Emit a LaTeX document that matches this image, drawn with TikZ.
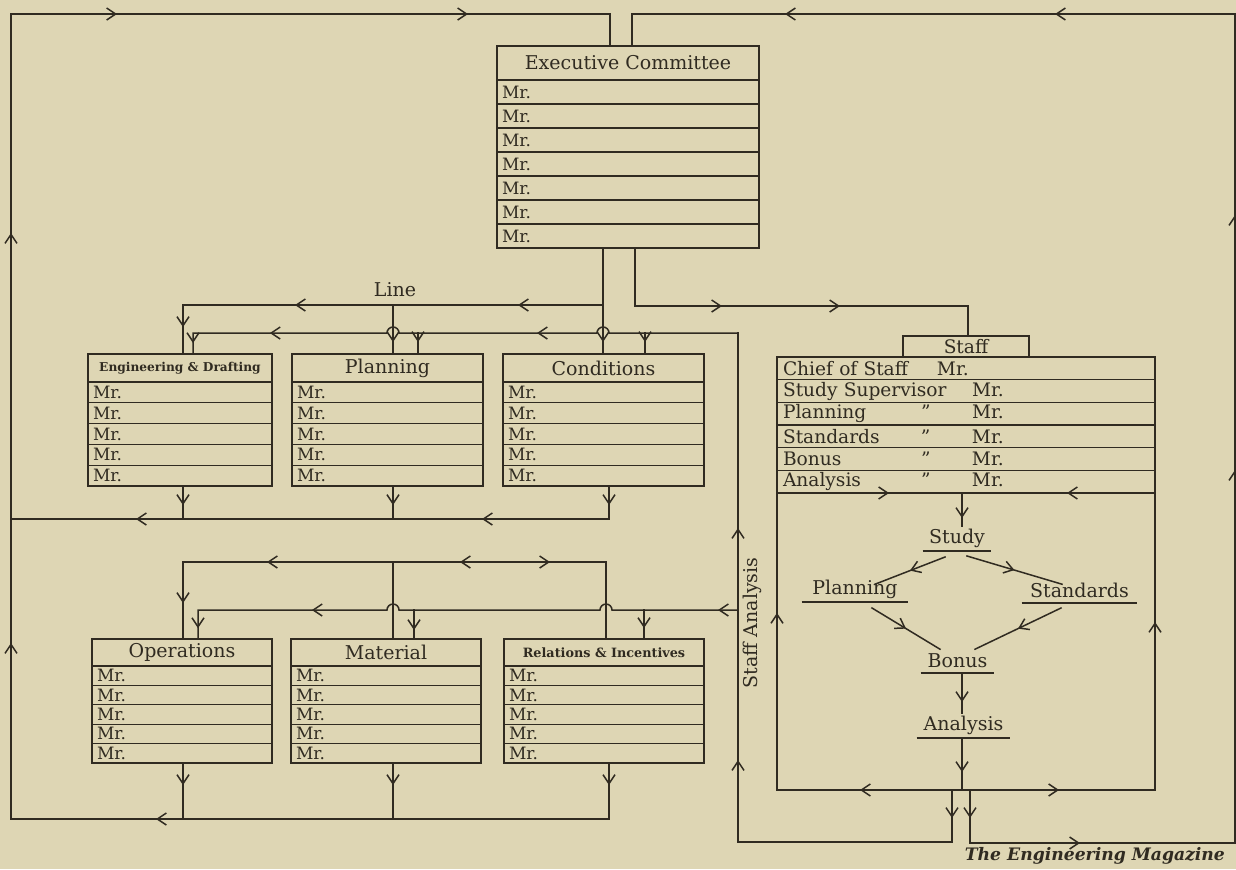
\documentclass[tikz,border=0pt]{standalone}
\usepackage{fontspec}
\setmainfont{DejaVu Serif}
\usetikzlibrary{arrows.meta, decorations.markings, positioning}

\definecolor{paper}{RGB}{222,214,180}
\definecolor{ink}{RGB}{48,43,33}

\newcommand{\titlefont}{\fontsize{9.5}{11}\selectfont}
\newcommand{\smallbold}{\fontsize{6.1}{7}\selectfont\bfseries}
\newcommand{\rowfont}{\fontsize{8.5}{10}\selectfont}
\newcommand{\staffont}{\fontsize{9.3}{11}\selectfont}

% box with a title row and rows of "Mr."
% #1 name, #2 top left, #3 width, #4 title height, #5 row height, #6 rows, #7 title font, #8 title
\newcommand{\orgbox}[8]{%
  \pgfmathsetlengthmacro{\rowtext}{#3-5pt}%
  \node[head, minimum width=#3, minimum height=#4, font=#7] (#1) at #2 {#8};
  \foreach \rw in {1,...,#6}
    \node[row, minimum width=#3, text width=\rowtext, minimum height=#5, yshift=-(\rw-1)*#5] (#1-\rw) at (#1.south west) {Mr.};
  \draw[frame] (#1.north west) rectangle (#1-#6.south east);
}

\begin{document}
\begin{tikzpicture}[
    x=0.5pt, y=-0.5pt,
    font=\titlefont,
    barb/.tip={Straight Barb[length=4.5pt, width=6pt]},
    head/.style={draw=ink, line width=0.6pt, anchor=north west, inner sep=0pt, outer sep=0pt, align=center, text=ink},
    row/.style={draw=ink, line width=0.6pt, anchor=north west, inner xsep=2.5pt, inner ysep=0pt, outer sep=0pt, align=left, font=\rowfont, text=ink},
    srow/.style={draw=ink, line width=0.6pt, minimum width=189pt, text width=183pt, minimum height=11.33pt, inner xsep=3pt, inner ysep=0pt, outer sep=0pt, align=left, font=\staffont, text=ink},
    stage/.style={anchor=south, inner sep=0pt, minimum height=12pt, font=\titlefont, text=ink},
    frame/.style={draw=ink, line width=1pt},
    rule/.style={draw=ink, line width=0.8pt},
    wire/.style={ink, draw, line width=0.75pt, line cap=rect},
    arr/.style={postaction={decorate, decoration={markings, mark=at position #1 with {\arrow{barb}}}}}
]
\fill[paper] (0,0) rectangle (1236,869);
\useasboundingbox (0,0) rectangle (1236,869);

% Executive committee and line departments
\orgbox{ec}{(497,46)}{131pt}{17pt}{12pt}{7}{\titlefont}{Executive Committee}
\orgbox{eng}{(88,354)}{92pt}{14pt}{10.4pt}{5}{\smallbold}{Engineering \& Drafting}
\orgbox{plan}{(292,354)}{95.5pt}{14pt}{10.4pt}{5}{\titlefont}{Planning}
\orgbox{cond}{(503,354)}{100.5pt}{14pt}{10.4pt}{5}{\titlefont}{Conditions}
\orgbox{oper}{(92,639)}{90pt}{13.5pt}{9.7pt}{5}{\titlefont}{Operations}
\orgbox{matl}{(291,639)}{95pt}{13.5pt}{9.7pt}{5}{\titlefont}{Material}
\orgbox{rel}{(504,639)}{100pt}{13.5pt}{9.7pt}{5}{\fontsize{6.4}{7}\selectfont\bfseries}{Relations \& Incentives}

% Staff
\node[head, line width=1pt, minimum width=63pt, minimum height=10.5pt, font=\staffont] (tab) at (903,336) {Staff};
\node[srow, anchor=north west] (s1) at (777,357) {\makebox[77pt][l]{Chief of Staff}Mr.};
\node[srow, below=0pt of s1] (s2) {\makebox[94.5pt][l]{Study Supervisor}Mr.};
\node[srow, below=0pt of s2] (s3) {\makebox[69pt][l]{Planning}\makebox[25.5pt][l]{''}Mr.};
\node[srow, below=0pt of s3] (s4) {\makebox[69pt][l]{Standards}\makebox[25.5pt][l]{''}Mr.};
\node[srow, below=0pt of s4] (s5) {\makebox[69pt][l]{Bonus}\makebox[25.5pt][l]{''}Mr.};
\node[srow, below=0pt of s5] (s6) {\makebox[69pt][l]{Analysis}\makebox[25.5pt][l]{''}Mr.};
\node[srow, below=0pt of s6, minimum height=148.5pt] (sarea) {};
\draw[frame] (s1.north west) rectangle (sarea.south east);

% Staff stages
\node[stage, minimum width=34pt] (sstudy) at (957,551) {Study};
\node[stage, minimum width=53pt] (splan) at (855,602) {Planning};
\node[stage, minimum width=57.5pt] (sstand) at (1079.5,603) {Standards};
\node[stage, minimum width=36.5pt] (sbonus) at (957.5,673) {Bonus};
\node[stage, minimum width=46.5pt] (sanal) at (963.5,738) {Analysis};
\foreach \n in {sstudy,splan,sstand,sbonus,sanal}
  \draw[rule] (\n.south west) -- (\n.south east);

% Labels
\node[text=ink] (line) at (395,290) {Line};
\node[text=ink, rotate=90] (salabel) at (752,623) {Staff Analysis};
\node[text=ink, anchor=base east, font=\fontsize{8.6}{10}\selectfont\bfseries\itshape] (mag) at (1232,860) {The Engineering Magazine};

% Junctions
\coordinate (tl) at (11,14);
\coordinate (lt) at (610,14);
\coordinate (rt) at (632,14);
\coordinate (tr) at (1235,14);
\coordinate (br) at (1235,843);
\coordinate (ln) at (603,305);
\coordinate (l1) at (183,305);
\coordinate (l2) at (393,305);
\coordinate (sx) at (635,306);
\coordinate (sf) at (968,306);
\coordinate (sa) at (738,333);
\coordinate (e2) at (193,333);
\coordinate (p2) at (418,333);
\coordinate (c2) at (645,333);
\coordinate (sb) at (738,610);
\coordinate (o2) at (198,610);
\coordinate (m2) at (414,610);
\coordinate (r2) at (644,610);
\coordinate (lb) at (505,562);
\coordinate (lo) at (183,562);
\coordinate (lm) at (393,562);
\coordinate (lr) at (606,562);
\coordinate (ob) at (609,519);
\coordinate (ub) at (609,819);
\coordinate (sr) at (952,842);
\coordinate (sq) at (738,842);
\coordinate (rs) at (970,843);
\coordinate (mid) at (962,493);
\coordinate (midb) at (962,790);

% Line distribution
\draw[wire, arr=47pt] (ec-7.south -| ln) -- (cond.north -| ln);
\draw[wire, arr=42.5pt, arr=154pt, arr=221pt] (ln) -- (l1) -- (l1 |- eng.north);
\draw[wire, arr=18.5pt] (l2) -- (l2 |- plan.north);

% Staff bus
\draw[wire, arr=72.5pt, arr=131.5pt] (ec-7.south -| sx) -- (sx) -- (sf) -- (tab.north -| sf);

% Staff analysis return
\draw[wire, arr=14pt, arr=174pt, arr=290pt] (sarea.south -| sr) -- (sr) -- (sq) -- (sa);
\draw[wire, arr=103.9pt, arr=240.85pt, arr=284.3pt] (sa) -- ([xshift=3pt]ln |- sa)
  arc[start angle=0, end angle=180, radius=3pt] -- ([xshift=3pt]l2 |- sa)
  arc[start angle=0, end angle=180, radius=3pt] -- (e2) -- (e2 |- eng.north);
\draw[wire, arr=4.5pt] (c2) -- (c2 |- cond.north);
\draw[wire, arr=4.5pt] (p2) -- (p2 |- plan.north);
\draw[wire, arr=10pt, arr=219.85pt, arr=285.85pt] (sb) -- ([xshift=3pt]lr |- sb)
  arc[start angle=0, end angle=180, radius=3pt] -- ([xshift=3pt]lm |- sb)
  arc[start angle=0, end angle=180, radius=3pt] -- (o2) -- (o2 |- oper.north);
\draw[wire, arr=10pt] (m2) -- (m2 |- matl.north);
\draw[wire, arr=9pt] (r2) -- (r2 |- rel.north);

% Lower bus
\draw[wire, arr=22.5pt] (lb) -- (lr) -- (lr |- rel.north);
\draw[wire, arr=22.5pt, arr=119pt, arr=181.5pt] (lb) -- (lo) -- (lo |- oper.north);
\draw[wire] (lm) -- (lm |- matl.north);

% Outputs
\draw[wire, arr=9.5pt, arr=80pt, arr=253pt] (cond-5.south -| ob) -- (ob) -- (ob -| tl);
\draw[wire, arr=9.5pt] (eng-5.south -| l1) -- (l1 |- ob);
\draw[wire, arr=9.5pt] (plan-5.south -| l2) -- (l2 |- ob);
\draw[wire, arr=11pt, arr=254.5pt] (rel-5.south -| ub) -- (ub) -- (ub -| tl);
\draw[wire, arr=11pt] (oper-5.south -| lo) -- (lo |- ub);
\draw[wire, arr=11pt] (matl-5.south -| lm) -- (lm |- ub);

% Return loops to the committee
\draw[wire, arr=88pt, arr=293pt, arr=455.5pt, arr=631pt] (ub -| tl) -- (tl) -- (lt) -- (lt |- ec.north);
\draw[wire, arr=14pt, arr=81.5pt, arr=345.5pt, arr=473pt, arr=663.5pt, arr=798.5pt]
  (sarea.south -| rs) -- (rs) -- (br) -- (tr) -- (rt) -- (rt |- ec.north);

% Staff inner flow
\draw[wire, arr=51pt, arr=181pt, arr=297pt] (midb) -- (sarea.south west) -- (sarea.north west) -- (mid);
\draw[wire, arr=48.5pt, arr=180.5pt, arr=289pt] (midb) -- (sarea.south east) -- (sarea.north east) -- (mid);
\draw[wire, arr=12.5pt] (mid) -- (mid |- sstudy.north);
\draw[wire, arr=0.5] ([xshift=-6pt,yshift=-3pt]sstudy.south) -- ([xshift=10pt,yshift=-3.5pt]splan.north);
\draw[wire, arr=0.5] ([xshift=5pt,yshift=-2.5pt]sstudy.south) -- ([xshift=-8.75pt,yshift=-3pt]sstand.north);
\draw[wire, arr=0.5] ([xshift=8.5pt,yshift=-3pt]splan.south) -- ([xshift=-8.75pt,yshift=-0.5pt]sbonus.north);
\draw[wire, arr=0.5] ([xshift=-9.25pt,yshift=-2.5pt]sstand.south) -- ([xshift=8.75pt,yshift=-0.5pt]sbonus.north);
\draw[wire, arr=14.5pt] (mid |- sbonus.south) -- (mid |- sanal.north);
\draw[wire, arr=17pt] (mid |- sanal.south) -- (midb);

\end{tikzpicture}
\end{document}
